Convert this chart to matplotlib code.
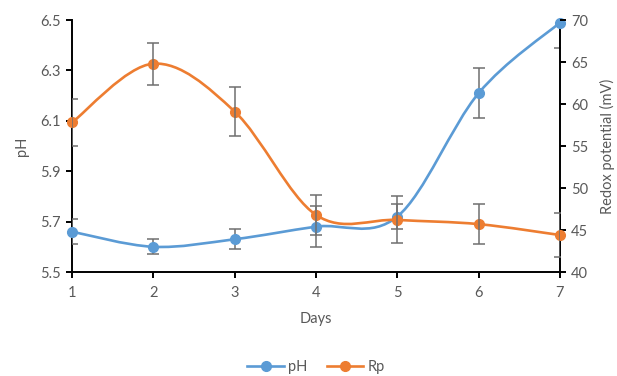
import matplotlib
matplotlib.use("Agg")
import matplotlib.pyplot as plt
from matplotlib.path import Path
from matplotlib.patches import PathPatch
from matplotlib.lines import Line2D

# Data
days = [1, 2, 3, 4, 5, 6, 7]
ph = [5.66, 5.60, 5.63, 5.68, 5.72, 6.21, 6.49]
ph_err = [0.05, 0.03, 0.04, 0.08, 0.05, 0.10, 0.10]
rp = [57.8, 64.8, 59.1, 46.8, 46.2, 45.7, 44.4]
rp_err = [2.8, 2.5, 2.9, 2.4, 2.8, 2.4, 2.6]

ph_ticks = [5.5, 5.7, 5.9, 6.1, 6.3, 6.5]
rp_ticks = [40, 45, 50, 55, 60, 65, 70]

BLUE = "#5B9BD5"
ORANGE = "#ED7D31"
GREY_TXT = "#595959"
ERR = "#6f6f6f"

plt.rcParams["font.family"] = ["Lato", "DejaVu Sans"]


def smooth_path(x, y):
    # Excel-style smoothed line: Catmull-Rom segments as cubic Beziers
    n = len(x)
    verts = [(x[0], y[0])]
    codes = [Path.MOVETO]
    for i in range(n - 1):
        a = max(i - 1, 0)
        b = min(i + 2, n - 1)
        c1 = (x[i] + (x[i + 1] - x[a]) / 6, y[i] + (y[i + 1] - y[a]) / 6)
        c2 = (x[i + 1] - (x[b] - x[i]) / 6, y[i + 1] - (y[b] - y[i]) / 6)
        verts += [c1, c2, (x[i + 1], y[i + 1])]
        codes += [Path.CURVE4] * 3
    return Path(verts, codes)


fig = plt.figure(figsize=(6.17, 3.76), dpi=100)
ax = fig.add_axes([72 / 617, 1 - 272 / 376, 488 / 617, 252 / 376])
ax2 = ax.twinx()

ax.set_xlim(1, 7)
ax.set_ylim(5.5, 6.5)
ax2.set_ylim(40, 70)

# pH on left axis
ax.add_patch(PathPatch(smooth_path(days, ph), fill=False, edgecolor=BLUE,
                       linewidth=1.9, capstyle="round", zorder=2))
ax.errorbar(days, ph, yerr=ph_err, fmt="none", ecolor=ERR, elinewidth=1.1,
            capsize=4, capthick=1.1, zorder=4)
# markers go on the top axes so they sit over the right spine too
ax2.plot(days, ph, linestyle="none", marker="o", markersize=7,
         color=BLUE, zorder=1, clip_on=False, transform=ax.transData)

# Rp on right axis
ax2.add_patch(PathPatch(smooth_path(days, rp), fill=False, edgecolor=ORANGE,
                        linewidth=1.9, capstyle="round", zorder=2))
ax2.plot(days, rp, linestyle="none", marker="o", markersize=7,
         color=ORANGE, zorder=3, clip_on=False)
ax2.errorbar(days, rp, yerr=rp_err, fmt="none", ecolor=ERR, elinewidth=1.1,
             capsize=4, capthick=1.1, zorder=4)

ax.set_xlim(1, 7)
ax.set_ylim(5.5, 6.5)
ax2.set_ylim(40, 70)
ax.set_xticks(days)
ax.set_yticks(ph_ticks)
ax.set_yticklabels([f"{t:.1f}" for t in ph_ticks])
ax2.set_yticks(rp_ticks)

for a in (ax, ax2):
    for s in a.spines.values():
        s.set_visible(False)
    a.set_facecolor("none")
ax.spines["left"].set_visible(True)
ax.spines["bottom"].set_visible(True)
ax2.spines["right"].set_visible(True)
ax2.spines["right"].set_zorder(0.5)
for s in (ax.spines["left"], ax.spines["bottom"], ax2.spines["right"]):
    s.set_linewidth(1.4)
    s.set_color("black")

ax.tick_params(axis="both", direction="out", length=4, width=1.4,
               color="black", labelcolor=GREY_TXT, labelsize=10.5, pad=4)
ax2.tick_params(axis="y", direction="out", length=4, width=1.4,
                color="black", labelcolor=GREY_TXT, labelsize=10.5, pad=4)
ax.tick_params(axis="x", pad=6)

ax.set_xlabel("Days", color=GREY_TXT, fontsize=10.5)
ax.set_ylabel("pH", color=GREY_TXT, fontsize=10.5)
ax2.set_ylabel("Redox potential (mV)", color=GREY_TXT, fontsize=10.5)
ax.xaxis.set_label_coords(0.5, (272 - 312) / 252)
ax.yaxis.set_label_coords((29 - 72) / 488, 0.5)
ax2.yaxis.set_label_coords((600 - 72) / 488, 0.5)

handles = [
    Line2D([], [], color=BLUE, linewidth=1.9, marker="o", markersize=7),
    Line2D([], [], color=ORANGE, linewidth=1.9, marker="o", markersize=7),
]
fig.legend(handles, ["pH", "Rp"], loc="center",
           bbox_to_anchor=(316 / 617, 1 - 367 / 376), ncol=2, frameon=False,
           fontsize=10.5, labelcolor=GREY_TXT, handlelength=2.5,
           handletextpad=0.3, columnspacing=1.3)

fig.savefig("out.png", dpi=100)
